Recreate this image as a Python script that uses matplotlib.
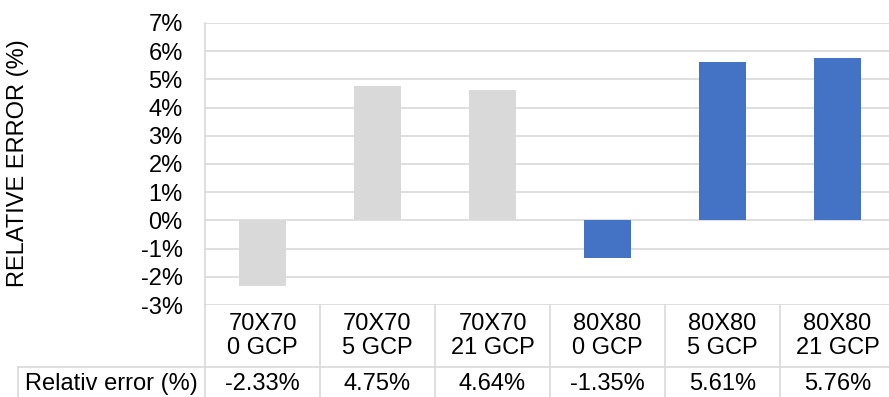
import numpy as np
import matplotlib
matplotlib.use('Agg')
import matplotlib.pyplot as plt
import matplotlib.transforms as mtransforms
from matplotlib.lines import Line2D
from matplotlib.ticker import FuncFormatter, MultipleLocator

plt.rcParams['font.family'] = ['Liberation Sans', 'DejaVu Sans']

# data
grids = ['70X70', '70X70', '70X70', '80X80', '80X80', '80X80']
gcps = ['0 GCP', '5 GCP', '21 GCP', '0 GCP', '5 GCP', '21 GCP']
rel_error = [-2.33, 4.75, 4.64, -1.35, 5.61, 5.76]
bar_colors = ['#d9d9d9', '#d9d9d9', '#d9d9d9', '#4472c4', '#4472c4', '#4472c4']
row_label = 'Relativ error (%)'

W, H = 889, 397
FS = 17
LINE = '#d9d9d9'

def fy(px):
    # pixel row from top -> figure fraction
    return 1 - px / H

fig = plt.figure(figsize=(W / 100, H / 100), dpi=100)

# plot area in pixels (runs past the right edge)
left, right, top, bottom = 205, 895, 23, 305
ax = fig.add_axes([left / W, fy(bottom), (right - left) / W, (bottom - top) / H])

x = np.arange(len(rel_error))
ax.bar(x, rel_error, width=0.41, color=bar_colors, zorder=2)
ax.set_xlim(-0.5, len(x) - 0.5)
ax.set_ylim(-3, 7)
ax.yaxis.set_major_locator(MultipleLocator(1))
ax.yaxis.set_major_formatter(FuncFormatter(lambda v, p: f'{int(round(v))}%'))
ax.grid(axis='y', color=LINE, lw=1.2, zorder=0)
ax.set_xticks([])
for s in ['top', 'right', 'bottom']:
    ax.spines[s].set_visible(False)
ax.spines['left'].set_color(LINE)
ax.spines['left'].set_linewidth(1.2)
ax.tick_params(axis='y', length=0, labelsize=FS, pad=16)

fig.text(18 / W, fy(163), 'RELATIVE ERROR (%)', rotation=90,
         ha='center', va='center', fontsize=FS)

# data table under the plot
trans = mtransforms.blended_transform_factory(ax.transData, fig.transFigure)
row_split = 367

for i in range(len(x) + 1):
    fig.add_artist(Line2D([i - 0.5, i - 0.5], [fy(bottom), fy(H + 5)],
                          transform=trans, color=LINE, lw=1.2))
fig.add_artist(Line2D([18 / W, 1], [fy(row_split), fy(row_split)],
                      color=LINE, lw=1.2))
fig.add_artist(Line2D([18 / W, 18 / W], [fy(row_split), fy(H + 5)],
                      color=LINE, lw=1.2))

for i in x:
    fig.text(i, fy(336), f'{grids[i]}\n{gcps[i]}', transform=trans,
             ha='center', va='center', fontsize=FS, linespacing=1.1)
    fig.text(i, fy(384), f'{rel_error[i]:.2f}%', transform=trans,
             ha='center', va='center', fontsize=FS)
fig.text(111 / W, fy(384), row_label, ha='center', va='center', fontsize=FS)

fig.savefig('out.png', dpi=100)
